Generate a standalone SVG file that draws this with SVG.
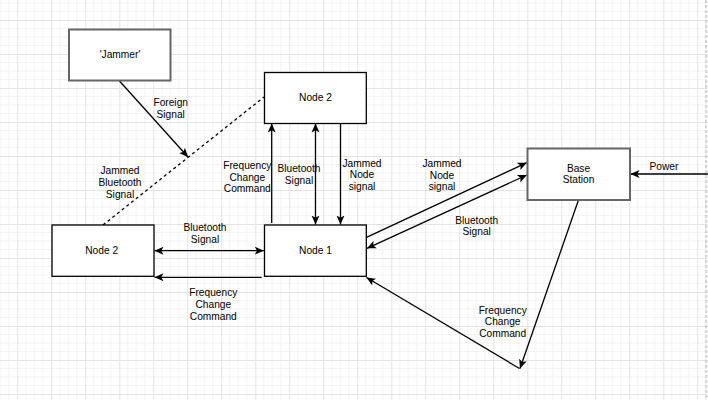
<svg xmlns="http://www.w3.org/2000/svg" width="708" height="400" viewBox="0 0 708 400">
  <defs>
    <pattern id="grid" x="17.3" y="20" width="34" height="34" patternUnits="userSpaceOnUse">
      <path d="M8.5 0V34M17 0V34M25.5 0V34M0 8.5H34M0 17H34M0 25.5H34" stroke="#f3f3f3" stroke-width="1" fill="none"/>
      <path d="M0.5 0V34M0 0.5H34" stroke="#e3e3e3" stroke-width="1" fill="none"/>
    </pattern>
    <marker id="arrow" markerUnits="userSpaceOnUse" markerWidth="10" markerHeight="9" refX="9" refY="4.5" orient="auto-start-reverse" viewBox="0 0 10 9">
      <path d="M0 0.5 L9 4.5 L0 8.5 L2.2 4.5 Z" fill="#000"/>
    </marker>
    <style>
      .box { fill: #ffffff; stroke: #000000; stroke-width: 1.3; }
      .gbox { fill: #ffffff; stroke: #666666; stroke-width: 2; }
      .lbl { font-family: "Liberation Sans", Arial, sans-serif; font-size: 10.2px; fill: #000000; text-anchor: middle; dominant-baseline: central; }
      .edge { stroke: #000000; stroke-width: 1.3; fill: none; }
      .end { marker-end: url(#arrow); }
      .both { marker-start: url(#arrow); marker-end: url(#arrow); }
    </style>
  </defs>

  <!-- canvas grid -->
  <rect x="0" y="0" width="708" height="400" fill="#ffffff"/>
  <rect x="0" y="0" width="708" height="400" fill="url(#grid)"/>
  <line x1="706" y1="0" x2="706" y2="400" stroke="#b0b0b0" stroke-width="1" stroke-dasharray="3 2"/>

  <!-- connectors -->
  <g id="connectors">
    <line class="edge end" x1="119.5" y1="81" x2="188" y2="157"/>
    <line class="edge" x1="103" y1="225" x2="264" y2="97" stroke-dasharray="3 3"/>
    <line class="edge end" x1="271.7" y1="223" x2="271.7" y2="123.5"/>
    <line class="edge both" x1="315.5" y1="123.5" x2="315.5" y2="224.5"/>
    <line class="edge end" x1="340.5" y1="123.5" x2="340.5" y2="224.5"/>
    <line class="edge both" x1="154.5" y1="250.7" x2="263.8" y2="250.7"/>
    <line class="edge end" x1="261.7" y1="277.3" x2="154.5" y2="277.3"/>
    <line class="edge end" x1="366.5" y1="237.3" x2="526.8" y2="162.7"/>
    <line class="edge both" x1="367" y1="248.3" x2="526.8" y2="175"/>
    <line class="edge end" x1="708" y1="174" x2="630.5" y2="174"/>
    <line class="edge end" x1="578.3" y1="200.5" x2="520" y2="368.5"/>
    <line class="edge end" x1="519.5" y1="368.5" x2="366.5" y2="277.5"/>
  </g>

  <!-- connector labels -->
  <g id="labels">
    <text class="lbl" x="170.7" y="102.7">Foreign</text>
    <text class="lbl" x="170.7" y="114.4">Signal</text>
    <text class="lbl" x="120" y="170.7">Jammed</text>
    <text class="lbl" x="120" y="182.4">Bluetooth</text>
    <text class="lbl" x="120" y="194.1">Signal</text>
    <text class="lbl" x="247.3" y="165.3">Frequency</text>
    <text class="lbl" x="247.3" y="177">Change</text>
    <text class="lbl" x="247.3" y="188.7">Command</text>
    <text class="lbl" x="299" y="168.7">Bluetooth</text>
    <text class="lbl" x="299" y="180.4">Signal</text>
    <text class="lbl" x="362" y="163">Jammed</text>
    <text class="lbl" x="362" y="174.7">Node</text>
    <text class="lbl" x="362" y="186.4">signal</text>
    <text class="lbl" x="205" y="227.7">Bluetooth</text>
    <text class="lbl" x="205" y="239.4">Signal</text>
    <text class="lbl" x="213.3" y="292.7">Frequency</text>
    <text class="lbl" x="213.3" y="304.4">Change</text>
    <text class="lbl" x="213.3" y="316.1">Command</text>
    <text class="lbl" x="442" y="163.3">Jammed</text>
    <text class="lbl" x="442" y="175">Node</text>
    <text class="lbl" x="442" y="186.7">signal</text>
    <text class="lbl" x="476.7" y="220">Bluetooth</text>
    <text class="lbl" x="476.7" y="231.5">Signal</text>
    <text class="lbl" x="664" y="166">Power</text>
    <text class="lbl" x="502.7" y="310">Frequency</text>
    <text class="lbl" x="502.7" y="321.8">Change</text>
    <text class="lbl" x="502.7" y="333.6">Command</text>
  </g>

  <!-- nodes -->
  <g id="jammer">
    <rect class="gbox" x="69" y="29.5" width="101.5" height="51"/>
    <text class="lbl" x="120" y="54.7">'Jammer'</text>
  </g>
  <g id="node2-top">
    <rect class="box" x="264.5" y="72.5" width="101.8" height="51"/>
    <text class="lbl" x="315.5" y="97.8">Node 2</text>
  </g>
  <g id="node1">
    <rect class="box" x="264.5" y="225" width="101.8" height="51.3"/>
    <text class="lbl" x="315.5" y="250.7">Node 1</text>
  </g>
  <g id="node2-left">
    <rect class="box" x="52" y="225" width="102" height="51.3"/>
    <text class="lbl" x="101.7" y="250.7">Node 2</text>
  </g>
  <g id="base-station">
    <rect class="gbox" x="527.5" y="148.5" width="102.5" height="51.5"/>
    <text class="lbl" x="578.5" y="168">Base</text>
    <text class="lbl" x="578.5" y="179.8">Station</text>
  </g>
</svg>
